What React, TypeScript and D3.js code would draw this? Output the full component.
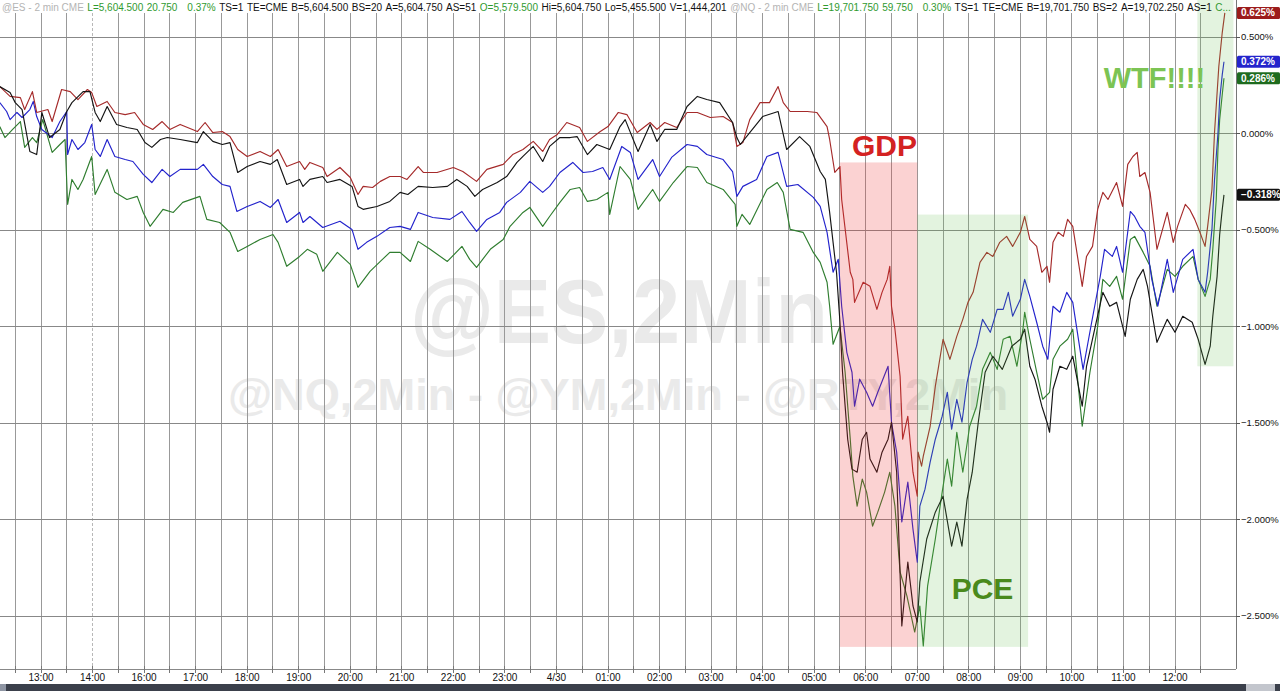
import React from "react";
import * as d3 from "d3";

// ---------- DATA ----------
// time = trading minutes after 13:00 (the 15:00-16:00 break is skipped), value = % change
const timeLabels = ["13:00","14:00","16:00","17:00","18:00","19:00","20:00","21:00","22:00","23:00","4/30","01:00","02:00","03:00","04:00","05:00","06:00","07:00","08:00","09:00","10:00","11:00","12:00"];
const pctTicks = [0.5, 0, -0.5, -1, -1.5, -2, -2.5];

const rtySeries: [number, number][] = [
[-48,0.243],[-36,0.192],[-24,0.186],[-19,0.124],[-10,0.217],[-5,0.109],[8,0.124],[13,0.062],[24,0.228],[34,0.217],[43,0.176],[54,0.228],[59,0.212],[65,0.140],[77,0.166],[86,0.109],[98,0.098],[109,0.109],[119,0.047],[130,0.021],[141,0.062],[150,0.021],[162,0.047],[182,0.010],[191,0.057],[200,0.005],[211,0.010],[220,-0.016],[229,-0.083],[240,-0.119],[255,-0.093],[267,-0.119],[276,-0.083],[286,-0.171],[301,-0.145],[307,-0.186],[313,-0.150],[328,-0.176],[333,-0.223],[348,-0.176],[360,-0.228],[369,-0.316],[375,-0.274],[386,-0.280],[395,-0.248],[406,-0.223],[418,-0.223],[426,-0.238],[439,-0.171],[445,-0.202],[461,-0.202],[480,-0.176],[491,-0.197],[507,-0.248],[519,-0.186],[538,-0.160],[549,-0.109],[561,-0.083],[573,-0.041],[584,-0.093],[592,-0.031],[601,-0.005],[612,0.057],[627,0.031],[636,-0.041],[651,0.010],[660,0.036],[672,0.109],[682,0.098],[694,0.005],[709,0.057],[717,0.021],[726,0.057],[740,0.031],[752,0.109],[764,0.109],[779,0.083],[794,0.088],[805,0.057],[810,-0.067],[817,-0.047],[825,0.072],[837,0.160],[848,0.160],[858,0.243],[864,0.160],[872,0.114],[892,0.114],[903,0.109],[915,0.036],[918,-0.031],[924,-0.202],[930,-0.171],[932,-0.342],[942,-0.719],[945,-0.756],[947,-0.875],[957,-0.771],[965,-0.792],[973,-0.911],[979,-0.823],[985,-0.756],[988,-0.688],[990,-0.895],[994,-1.014],[1000,-1.258],[1003,-1.584],[1009,-1.465],[1015,-1.755],[1020,-1.879],[1021,-1.651],[1025,-1.724],[1027,-1.672],[1035,-1.517],[1041,-1.310],[1050,-1.066],[1058,-1.170],[1066,-1.051],[1073,-0.963],[1079,-0.875],[1085,-0.823],[1093,-0.668],[1101,-0.616],[1108,-0.637],[1116,-0.564],[1124,-0.533],[1131,-0.585],[1140,-0.512],[1145,-0.430],[1151,-0.549],[1159,-0.585],[1165,-0.719],[1171,-0.688],[1174,-0.771],[1178,-0.564],[1184,-0.512],[1190,-0.533],[1195,-0.445],[1201,-0.481],[1212,-0.792],[1217,-0.637],[1224,-0.585],[1230,-0.393],[1236,-0.305],[1242,-0.342],[1252,-0.254],[1259,-0.378],[1265,-0.160],[1271,-0.119],[1276,-0.098],[1279,-0.223],[1285,-0.202],[1291,-0.305],[1299,-0.600],[1311,-0.409],[1318,-0.564],[1323,-0.481],[1332,-0.367],[1337,-0.393],[1343,-0.445],[1349,-0.512],[1355,-0.585],[1358,-0.481],[1363,-0.290],[1366,0.005],[1371,0.347],[1375,0.523],[1378,0.625]
];

const ymSeries: [number, number][] = [
[-48,0.243],[-36,0.212],[-30,0.160],[-22,0.124],[-13,-0.093],[-5,-0.109],[1,0.109],[10,-0.021],[22,0.021],[30,0.114],[36,0.160],[49,0.217],[57,0.217],[63,0.109],[69,0.062],[77,0.140],[88,0.047],[100,0.031],[112,0.021],[121,-0.047],[129,-0.072],[139,-0.031],[147,-0.021],[162,-0.031],[182,-0.047],[189,0.010],[200,-0.041],[211,-0.057],[220,-0.047],[229,-0.202],[240,-0.171],[255,-0.145],[267,-0.160],[275,-0.135],[286,-0.264],[301,-0.238],[305,-0.274],[313,-0.238],[328,-0.223],[333,-0.254],[348,-0.238],[362,-0.274],[369,-0.378],[375,-0.393],[391,-0.378],[406,-0.352],[418,-0.305],[427,-0.316],[439,-0.274],[456,-0.280],[473,-0.274],[484,-0.238],[496,-0.274],[505,-0.326],[514,-0.290],[531,-0.254],[542,-0.223],[554,-0.150],[561,-0.119],[573,-0.067],[584,-0.145],[592,-0.067],[604,-0.021],[616,-0.021],[624,-0.016],[636,-0.109],[647,-0.057],[662,-0.083],[674,0.036],[680,0.072],[695,-0.093],[709,0.047],[717,-0.041],[726,0.021],[740,0.021],[752,0.140],[764,0.192],[775,0.176],[790,0.160],[805,0.057],[810,-0.021],[814,-0.057],[825,0.005],[840,0.088],[858,0.114],[868,-0.083],[883,-0.016],[895,-0.067],[907,-0.197],[913,-0.238],[918,-0.409],[926,-0.719],[930,-0.978],[933,-1.237],[939,-1.584],[944,-1.739],[950,-1.755],[956,-1.584],[961,-1.548],[965,-1.687],[973,-1.755],[979,-1.651],[986,-1.584],[990,-1.496],[996,-1.755],[1002,-2.552],[1009,-2.221],[1015,-2.448],[1020,-2.531],[1023,-2.324],[1031,-2.101],[1041,-1.962],[1050,-1.879],[1060,-2.138],[1066,-2.013],[1072,-2.138],[1078,-1.894],[1084,-1.755],[1091,-1.496],[1099,-1.237],[1108,-1.154],[1119,-1.222],[1130,-1.102],[1140,-1.066],[1145,-1.014],[1151,-1.206],[1157,-1.273],[1165,-1.413],[1171,-1.496],[1174,-1.548],[1178,-1.325],[1186,-1.206],[1194,-1.222],[1201,-1.154],[1212,-1.413],[1217,-1.206],[1229,-0.963],[1236,-0.823],[1244,-0.895],[1252,-0.875],[1262,-1.051],[1268,-0.859],[1276,-0.756],[1283,-0.704],[1288,-0.792],[1299,-1.082],[1311,-0.963],[1320,-1.030],[1329,-0.947],[1340,-0.978],[1347,-1.066],[1355,-1.196],[1361,-1.102],[1364,-0.947],[1369,-0.740],[1372,-0.523],[1375,-0.393],[1377,-0.318]
];

const esSeries: [number, number][] = [
[-48,0.160],[-40,0.114],[-36,0.072],[-28,0.109],[-22,0.083],[-13,0.124],[-9,0.166],[-5,0.088],[1,0.021],[13,-0.021],[22,0.062],[30,0.114],[31,-0.109],[36,-0.031],[43,-0.083],[51,-0.047],[59,0.047],[63,-0.083],[69,-0.119],[77,-0.031],[86,-0.119],[98,-0.135],[107,-0.145],[119,-0.212],[129,-0.254],[141,-0.186],[150,-0.223],[162,-0.186],[182,-0.186],[189,-0.160],[200,-0.223],[211,-0.264],[220,-0.274],[228,-0.404],[240,-0.378],[255,-0.352],[267,-0.383],[276,-0.342],[286,-0.461],[301,-0.409],[305,-0.461],[313,-0.430],[328,-0.487],[348,-0.455],[362,-0.497],[369,-0.600],[379,-0.564],[391,-0.533],[406,-0.487],[418,-0.481],[430,-0.497],[439,-0.409],[456,-0.435],[476,-0.445],[490,-0.404],[499,-0.461],[507,-0.507],[519,-0.445],[534,-0.409],[542,-0.357],[558,-0.305],[569,-0.248],[584,-0.305],[592,-0.274],[604,-0.202],[619,-0.150],[631,-0.202],[642,-0.197],[654,-0.176],[662,-0.238],[676,-0.067],[686,-0.098],[695,-0.238],[712,-0.135],[720,-0.223],[734,-0.124],[752,-0.057],[764,-0.067],[775,-0.109],[794,-0.135],[805,-0.197],[810,-0.326],[817,-0.274],[833,-0.238],[845,-0.119],[858,-0.098],[868,-0.274],[881,-0.264],[899,-0.331],[907,-0.378],[915,-0.512],[922,-0.719],[928,-0.652],[932,-0.895],[938,-1.134],[944,-1.237],[947,-1.413],[953,-1.273],[961,-1.341],[968,-1.413],[974,-1.341],[980,-1.273],[986,-1.206],[990,-1.496],[996,-1.651],[1002,-2.013],[1009,-1.806],[1015,-2.050],[1020,-2.221],[1023,-1.931],[1029,-1.843],[1035,-1.703],[1041,-1.584],[1049,-1.465],[1055,-1.341],[1060,-1.532],[1066,-1.377],[1072,-1.496],[1078,-1.289],[1084,-1.170],[1089,-1.102],[1096,-0.963],[1105,-1.030],[1113,-0.911],[1120,-0.911],[1126,-0.823],[1131,-0.947],[1140,-0.859],[1145,-0.756],[1151,-0.844],[1159,-0.978],[1166,-1.102],[1172,-1.170],[1178,-0.895],[1186,-0.926],[1194,-0.823],[1201,-0.875],[1213,-1.222],[1223,-0.978],[1233,-0.740],[1238,-0.600],[1247,-0.637],[1252,-0.585],[1259,-0.719],[1268,-0.404],[1273,-0.430],[1279,-0.481],[1285,-0.512],[1293,-0.756],[1300,-0.895],[1311,-0.652],[1318,-0.823],[1329,-0.652],[1341,-0.600],[1347,-0.756],[1355,-0.823],[1358,-0.719],[1363,-0.497],[1366,-0.238],[1370,0.000],[1372,0.176],[1375,0.305],[1377,0.372]
];

const nqSeries: [number, number][] = [
[-48,0.036],[-42,-0.021],[-33,0.021],[-24,0.062],[-19,-0.072],[-10,-0.021],[-5,-0.047],[2,0.072],[13,-0.098],[22,-0.057],[28,-0.031],[31,-0.367],[36,-0.238],[43,-0.290],[49,-0.238],[59,-0.119],[63,-0.316],[77,-0.186],[86,-0.305],[100,-0.342],[112,-0.326],[119,-0.409],[127,-0.481],[142,-0.393],[154,-0.409],[165,-0.357],[185,-0.326],[193,-0.445],[208,-0.461],[220,-0.512],[229,-0.611],[240,-0.585],[255,-0.549],[270,-0.523],[276,-0.564],[286,-0.688],[301,-0.637],[310,-0.600],[321,-0.626],[328,-0.714],[345,-0.616],[360,-0.678],[369,-0.797],[383,-0.714],[395,-0.663],[406,-0.616],[418,-0.616],[430,-0.663],[439,-0.559],[453,-0.600],[473,-0.663],[490,-0.585],[499,-0.652],[507,-0.694],[523,-0.600],[538,-0.549],[546,-0.481],[561,-0.409],[569,-0.383],[584,-0.481],[592,-0.430],[604,-0.357],[616,-0.290],[627,-0.280],[636,-0.352],[647,-0.342],[660,-0.305],[662,-0.419],[674,-0.171],[686,-0.238],[695,-0.393],[712,-0.290],[720,-0.352],[736,-0.254],[752,-0.171],[764,-0.176],[775,-0.254],[794,-0.290],[808,-0.367],[810,-0.481],[816,-0.419],[825,-0.471],[845,-0.290],[857,-0.254],[864,-0.305],[872,-0.497],[887,-0.512],[899,-0.616],[907,-0.668],[915,-0.771],[918,-0.895],[922,-1.092],[930,-0.999],[936,-1.237],[942,-1.584],[945,-1.775],[950,-1.931],[956,-1.791],[961,-1.858],[968,-2.034],[974,-1.962],[982,-1.858],[988,-1.755],[994,-1.931],[1000,-2.272],[1008,-2.397],[1017,-2.583],[1023,-2.448],[1027,-2.655],[1032,-2.345],[1041,-2.101],[1049,-1.858],[1055,-1.687],[1060,-1.827],[1066,-1.548],[1073,-1.755],[1081,-1.517],[1089,-1.413],[1096,-1.222],[1105,-1.134],[1113,-1.222],[1120,-1.066],[1128,-1.051],[1136,-1.206],[1143,-1.014],[1145,-0.926],[1151,-1.066],[1159,-1.237],[1166,-1.377],[1174,-1.341],[1178,-1.170],[1186,-1.102],[1195,-1.066],[1201,-1.014],[1212,-1.517],[1221,-1.237],[1230,-0.999],[1236,-0.756],[1244,-0.792],[1252,-0.740],[1259,-0.859],[1268,-0.549],[1273,-0.533],[1283,-0.616],[1291,-0.688],[1299,-0.895],[1311,-0.704],[1320,-0.740],[1329,-0.688],[1341,-0.637],[1347,-0.756],[1355,-0.844],[1361,-0.756],[1364,-0.600],[1368,-0.342],[1370,-0.083],[1372,0.072],[1375,0.202],[1377,0.286]
];

const seriesNames = ["NQ", "ES", "RTY", "YM"];
const seriesData = [nqSeries, esSeries, rtySeries, ymSeries];
const lastValues = [0.625, 0.372, 0.286, -0.318];
const lastValueSeries = ["RTY", "ES", "NQ", "YM"];

// event shading windows: [start minute, end minute, top %, bottom %]
const eventNames = ["GDP", "PCE", "WTF!!!!"];
const eventStart = [930, 1020, 1346];
const eventEnd = [1020, 1149, 1388];
const eventTop = [-0.15, -0.42, 0.7];
const eventBottom = [-2.66, -2.66, -1.206];

const headerItems = [
  ["@ES - 2 min CME", "g"], ["L=5,604.500", "u"], ["20.750", "u"], ["0.37%", "u"], ["TS=1", "k"], ["TE=CME", "k"],
  ["B=5,604.500", "k"], ["BS=20", "k"], ["A=5,604.750", "k"], ["AS=51", "k"], ["O=5,579.500", "u"], ["Hi=5,604.750", "k"],
  ["Lo=5,455.500", "k"], ["V=1,444,201", "k"], ["@NQ - 2 min CME", "g"], ["L=19,701.750", "u"], ["59.750", "u"], ["0.30%", "u"],
  ["TS=1", "k"], ["TE=CME", "k"], ["B=19,701.750", "k"], ["BS=2", "k"], ["A=19,702.250", "k"], ["AS=1", "k"], ["C...", "u"],
];

// ---------- STYLE ----------
const colors: Record<string, string> = { NQ: "#2f7d2f", ES: "#2323cc", RTY: "#a52a2a", YM: "#141414" };
const boxColors: Record<string, string> = { NQ: "#1e6b1e", ES: "#2424cc", RTY: "#9c1c1c", YM: "#111111" };
const eventFill = ["rgba(236,50,50,0.22)", "rgba(100,190,80,0.18)", "rgba(100,190,80,0.18)"];
const eventColor = ["#d42222", "#4a8a1c", "#7cc454"];
const headerColor: Record<string, string> = { g: "#b4b4b4", u: "#2f9a2f", k: "#111" };
const FONT = "'Liberation Sans', Arial, sans-serif";

export default function App() {
  const W = 1280, H = 691;
  const axisX = 1236, axisY = 669;
  const x = d3.scaleLinear().domain([0, 1320]).range([41, 1175]);
  const y = d3.scaleLinear().domain([0.5, -2.5]).range([37, 616]);
  const line = d3.line<[number, number]>().x(d => x(d[0])).y(d => y(d[1]));
  const gridMinutes = d3.range(-30, 1351, 30);
  const labelMinutes = timeLabels.map((_, i) => i * 60);
  const fmt = (v: number) => d3.format(".3f")(v) + "%";

  const eventLabelPos: [number, number][] = [[944, -0.114], [1060, -2.412], [1237, 0.238]];

  return (
    <svg width={W} height={H} style={{ position: "absolute", left: 0, top: 0, display: "block", background: "#fff" }} fontFamily={FONT}>
      <defs>
        <clipPath id="plot"><rect x={0} y={0} width={axisX} height={axisY} /></clipPath>
      </defs>
      <rect x={0} y={0} width={W} height={H} fill="#fff" />

      {/* watermark */}
      <text x={410} y={343} fontSize={90} fontWeight="bold" fill="#eaeaea" textLength={418} lengthAdjust="spacingAndGlyphs">@ES,2Min</text>
      <text x={228} y={410} fontSize={44} fontWeight="bold" fill="#eaeaea" textLength={780} lengthAdjust="spacingAndGlyphs">@NQ,2Min - @YM,2Min - @RTY,2Min</text>

      {/* grid */}
      <g>
        {gridMinutes.map(m => (
          <line key={"v" + m} x1={x(m)} x2={x(m)} y1={13} y2={axisY}
            stroke={m === 60 ? "#b8b8b8" : "#999"} strokeWidth={1}
            strokeDasharray={m === 60 ? "3,2" : undefined} shapeRendering="crispEdges" />
        ))}
        {pctTicks.map(p => (
          <line key={"h" + p} x1={0} x2={axisX} y1={y(p)} y2={y(p)} stroke="#888" strokeWidth={1} shapeRendering="crispEdges" />
        ))}
      </g>

      {/* series */}
      <g clipPath="url(#plot)">
        {seriesData.map((s, i) => (
          <path key={seriesNames[i]} d={line(s) || ""} fill="none" stroke={colors[seriesNames[i]]} strokeWidth={1.15} strokeLinejoin="round" />
        ))}
        {eventNames.map((n, i) => (
          <rect key={n} x={x(eventStart[i])} y={y(eventTop[i])} width={x(eventEnd[i]) - x(eventStart[i])}
            height={y(eventBottom[i]) - y(eventTop[i])} fill={eventFill[i]} />
        ))}
      </g>

      {/* event labels */}
      {eventNames.map((n, i) => (
        <text key={"t" + n} x={x(eventLabelPos[i][0])} y={y(eventLabelPos[i][1])} fontSize={i === 2 ? 29 : 30} fontWeight="bold" fill={eventColor[i]}>{n}</text>
      ))}

      {/* x axis */}
      <line x1={0} x2={axisX} y1={axisY} y2={axisY} stroke="#888" shapeRendering="crispEdges" />
      {gridMinutes.map(m => (
        <line key={"xt" + m} x1={x(m)} x2={x(m)} y1={axisY - 3} y2={axisY + 4} stroke="#777" shapeRendering="crispEdges" />
      ))}
      {timeLabels.map((t, i) => (
        <text key={"xl" + i} x={x(labelMinutes[i])} y={681} fontSize={10} textAnchor="middle" fill="#111">{t}</text>
      ))}

      {/* y axis right */}
      <line x1={axisX} x2={axisX} y1={0} y2={axisY} stroke="#777" shapeRendering="crispEdges" />
      {pctTicks.map(p => (
        <g key={"yl" + p}>
          <line x1={axisX} x2={axisX + 4} y1={y(p)} y2={y(p)} stroke="#555" shapeRendering="crispEdges" />
          <text x={axisX + 5} y={y(p)} dy="0.35em" fontSize={9.5} fill="#111">{fmt(p)}</text>
        </g>
      ))}
      {lastValues.map((v, i) => (
        <g key={"lv" + i}>
          <rect x={1237} y={y(v) - 6} width={43} height={12} rx={1.5} fill={boxColors[lastValueSeries[i]]} />
          <text x={1241} y={y(v)} dy="0.36em" fontSize={10} fontWeight="bold" fill="#fff">{fmt(v)}</text>
        </g>
      ))}

      {/* header */}
      <text x={2} y={10.5} fontSize={10}>
        {headerItems.map(([t, c], i) => (
          <tspan key={"h" + i} dx={i === 0 ? 0 : (t.endsWith("%") ? 10 : 3.5)} fill={headerColor[c]}>{t}</tspan>
        ))}
      </text>

      {/* bottom bar */}
      <rect x={0} y={684} width={W} height={7} fill="#3b404b" />
      <rect x={0} y={684} width={6} height={7} fill="#8e95a3" />
      <rect x={1246} y={684} width={29} height={7} fill="#c3c6cd" />
    </svg>
  );
}
